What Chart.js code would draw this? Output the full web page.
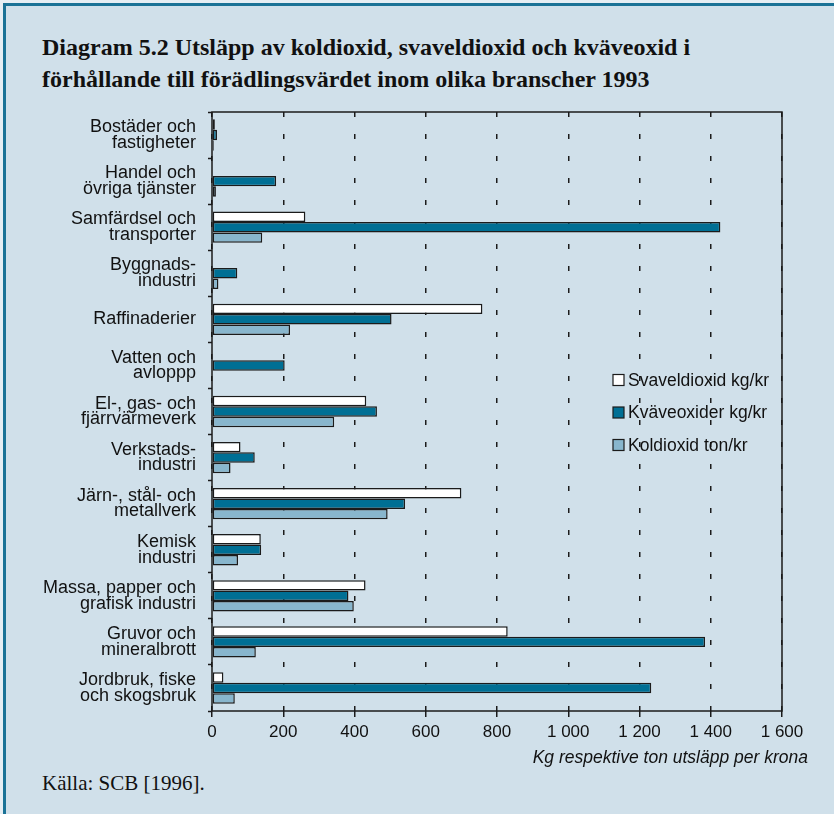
<!DOCTYPE html>
<html>
<head>
<meta charset="utf-8">
<script src="https://cdn.jsdelivr.net/npm/chart.js@4"></script>
<style>
  html, body { margin: 0; padding: 0; background: #d0e0ea; overflow: hidden; }
  #page { position: relative; width: 834px; height: 814px; background: #d0e0ea; overflow: hidden; }
  .edge { position: absolute; background: #1a7296; }
  #edgeTop { left: 3px; top: 3px; width: 831px; height: 3px; }
  #edgeLeft { left: 3px; top: 3px; width: 3px; height: 811px; }
  #corner { position: absolute; left: 0; top: 0; width: 834px; height: 3px; background: #e6eef3; }
  #cornerL { position: absolute; left: 0; top: 0; width: 3px; height: 814px; background: #e6eef3; }
  .title {
    position: absolute; left: 42px; top: 31px; margin: 0;
    font-family: "Liberation Serif", "Times New Roman", serif; font-weight: bold;
    font-size: 24px; line-height: 32px; color: #111; white-space: nowrap;
  }
  .source {
    position: absolute; left: 42px; top: 771px;
    font-family: "Liberation Serif", "Times New Roman", serif; font-size: 21px; color: #111;
  }
  .xtitle {
    position: absolute; right: 26px; top: 747px;
    font-family: "Liberation Sans", Arial, sans-serif; font-style: italic; font-size: 17.5px; color: #111;
  }
  canvas { position: absolute; left: 0; top: 100px; }
</style>
</head>
<body>
<div id="page">
  <div id="corner"></div><div id="cornerL"></div>
  <div class="edge" id="edgeTop"></div><div class="edge" id="edgeLeft"></div>
  <div class="title">Diagram 5.2 Utsläpp av koldioxid, svaveldioxid och kväveoxid i<br>förhållande till förädlingsvärdet inom olika branscher 1993</div>
  <canvas id="chart" width="834" height="670"></canvas>
  <div class="xtitle">Kg respektive ton utsläpp per krona</div>
  <div class="source">Källa: SCB [1996].</div>
</div>
<script>
// Branscher (uppifrån och ned)
const branscher = [
  ["Bostäder och", "fastigheter"],
  ["Handel och", "övriga tjänster"],
  ["Samfärdsel och", "transporter"],
  ["Byggnads-", "industri"],
  "Raffinaderier",
  ["Vatten och", "avloppp"],
  ["El-, gas- och", "fjärrvärmeverk"],
  ["Verkstads-", "industri"],
  ["Järn-, stål- och", "metallverk"],
  ["Kemisk", "industri"],
  ["Massa, papper och", "grafisk industri"],
  ["Gruvor och", "mineralbrott"],
  ["Jordbruk, fiske", "och skogsbruk"]
];

// Serier
const svaveldioxid = [8, 2, 262, 0, 759, 0, 433, 80, 700, 137, 431, 830, 32];
const kvaveoxider  = [14, 180, 1427, 71, 504, 204, 463, 120, 542, 138, 383, 1384, 1233];
const koldioxid    = [5, 11, 141, 18, 219, 2, 343, 52, 493, 73, 398, 123, 64];

const serieNamn = ["Svaveldioxid kg/kr", "Kväveoxider kg/kr", "Koldioxid ton/kr"];
const farger = ["#ffffff", "#006f94", "#88b6cd"];

const INK = "#1b1b1b";
const SANS = "'Liberation Sans', Arial, sans-serif";

// Ram runt diagramytan + förklaring inne i ytan
const ramOchForklaring = {
  id: "ramOchForklaring",
  afterDraw(chart) {
    const { ctx, chartArea: a } = chart;
    ctx.save();
    ctx.strokeStyle = INK;
    ctx.lineWidth = 1.5;
    ctx.setLineDash([]);
    ctx.strokeRect(a.left, a.top, a.right - a.left, a.bottom - a.top);

    // förklaring
    const x0 = 613, y0 = 280, dy = 32.5, box = 11;
    ctx.font = "17.5px " + SANS;
    ctx.textBaseline = "middle";
    chart.data.datasets.forEach((ds, i) => {
      const y = y0 + i * dy;
      ctx.fillStyle = ds.backgroundColor;
      ctx.fillRect(x0, y - box / 2, box, box);
      ctx.lineWidth = 1.2;
      ctx.strokeStyle = INK;
      ctx.strokeRect(x0, y - box / 2, box, box);
      ctx.fillStyle = "#111";
      ctx.fillText(ds.label, x0 + 15, y + 1);
    });
    ctx.restore();
  }
};

new Chart(document.getElementById("chart"), {
  type: "bar",
  data: {
    labels: branscher,
    datasets: [svaveldioxid, kvaveoxider, koldioxid].map((d, i) => ({
      label: serieNamn[i],
      data: d,
      backgroundColor: farger[i],
      borderColor: INK,
      borderWidth: 1.5,
      borderSkipped: false,
      categoryPercentage: 0.68,
      barPercentage: 1.0
    }))
  },
  options: {
    indexAxis: "y",
    responsive: false,
    devicePixelRatio: 1,
    animation: false,
    layout: { padding: { left: 0, right: 52, top: 12, bottom: 0 } },
    plugins: { legend: { display: false }, tooltip: { enabled: false } },
    scales: {
      x: {
        min: 0, max: 1600,
        afterFit: s => { s.height = 59; },
        ticks: {
          stepSize: 200, padding: 5, color: "#111", maxRotation: 0,
          font: { family: SANS, size: 17 },
          callback: v => v >= 1000 ? Math.floor(v / 1000) + " " + String(v % 1000).padStart(3, "0") : String(v)
        },
        grid: {
          color: INK, lineWidth: 1.5, borderDash: [5, 17],
          tickLength: 6, tickColor: INK, tickWidth: 1.5, tickBorderDash: []
        },
        border: { display: false, dash: [5, 17] }
      },
      y: {
        afterFit: s => { s.width = 212; s.paddingTop = 0; s.paddingBottom = 0; },
        ticks: {
          padding: 12, color: "#111",
          font: { family: SANS, size: 18, lineHeight: 0.87 }
        },
        grid: {
          offset: true, drawOnChartArea: false,
          tickLength: 4, tickColor: INK, tickWidth: 1.5
        },
        border: { display: false }
      }
    }
  },
  plugins: [ramOchForklaring]
});
</script>
</body>
</html>
